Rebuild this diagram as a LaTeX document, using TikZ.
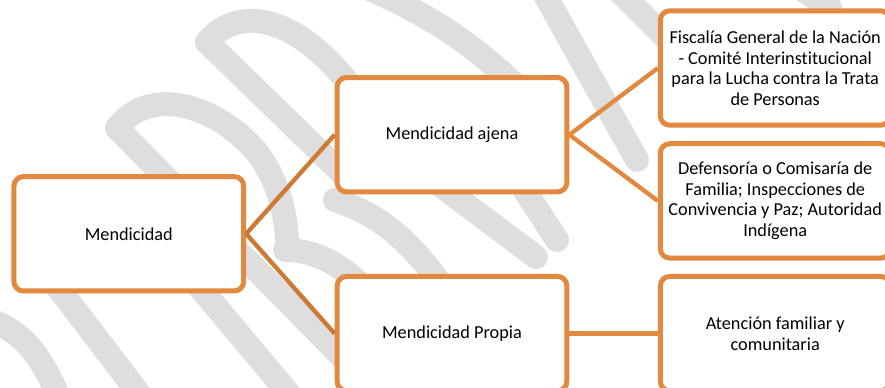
\documentclass[tikz,border=0pt]{standalone}
\usepackage{fontspec}
\setmainfont{Carlito}[Ligatures=NoCommon]
\definecolor{naranja}{RGB}{226,137,64}
\definecolor{naranjaosc}{RGB}{204,122,52}
\definecolor{grismarca}{RGB}{222,222,222}

\begin{document}
\begin{tikzpicture}[x=0.03cm,y=-0.03cm,
    caja/.style={draw=naranja,line width=0.15cm,fill=white,rounded corners=0.28cm,
      minimum width=6.89cm,minimum height=3.43cm,align=center,inner sep=0pt,
      font=\fontsize{15.6}{17.5}\selectfont},
    conector/.style={draw=naranja,line width=0.13cm},
    marca/.style={draw=grismarca,line width=0.72cm,line cap=round,line join=round}]
    \useasboundingbox (0,0) rectangle (885,387);
    \clip (0,0) rectangle (885,387);
    % marca de agua
    \draw[marca] (207,42) -- (345,176);
    \draw[marca] (207,42) .. controls (238,5) and (295,15) .. (350,85);
    \draw[marca] (117,128) -- (345,360);
    \draw[marca] (117,128) .. controls (150,85) and (215,105) .. (255,150) .. controls (275,175) and (285,205) .. (287,240);
    \draw[marca] (285,250) .. controls (320,250) and (350,270) .. (375,300);
    \draw[marca] (335,200) .. controls (380,215) and (410,240) .. (445,290);
    \draw[marca] (420,170) -- (536,257);
    \draw[marca] (505,160) -- (557,240);
    \draw[marca] (545,-5) -- (637,160);
    \draw[marca] (360,-15) .. controls (420,10) and (470,40) .. (520,90);
    \draw[marca] (620,-8) -- (668,40);
    \draw[marca] (800,-12) -- (830,8);
    \draw[marca] (-5,322) .. controls (25,335) and (40,355) .. (58,395);
    \draw[marca] (25,245) .. controls (60,290) .. (140,395);
    \draw[marca] (160,240) -- (290,395);
    % cajas
    \node[caja] (mend) at (128.8,233.8) {Mendicidad};
    \node[caja] (ajena) at (452,134.7) {Mendicidad ajena};
    \node[caja] (propia) at (452,333.6) {Mendicidad Propia};
    \node[caja] (fiscalia) at (775.2,68) {Fiscalía General de la Nación\\- Comité Interinstitucional\\para la Lucha contra la Trata\\de Personas};
    \node[caja] (defensoria) at (775.2,200.9) {Defensoría o Comisaría de\\Familia; Inspecciones de\\Convivencia y Paz; Autoridad\\Indígena};
    \node[caja] (atencion) at (775.2,333.6) {Atención familiar y\\comunitaria};
    % conectores
    \draw[conector,draw=naranjaosc] (mend.east) -- (ajena.west);
    \draw[conector,draw=naranjaosc] (mend.east) -- (propia.west);
    \draw[conector] (ajena.east) -- (fiscalia.west);
    \draw[conector] (ajena.east) -- (defensoria.west);
    \draw[conector,line width=0.15cm] (propia.east) -- (atencion.west);
\end{tikzpicture}
\end{document}
